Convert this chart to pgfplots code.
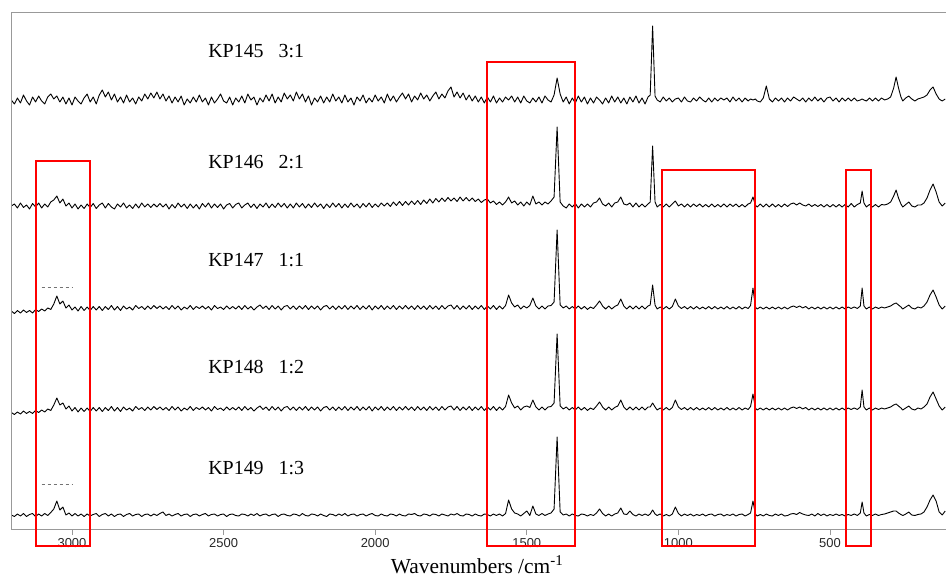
\documentclass[border=0pt]{standalone}
\usepackage{pgfplots}
\pgfplotsset{compat=1.18}
\usepackage{pgfplotstable}
\usepackage{fontspec}
\setmainfont{Liberation Serif}
\newfontfamily\sansf{Liberation Sans}
\pgfplotstableread{
x a b c d e
3200 0 0 -3 -3.5 0
3190 -4 2 -5.5 -5.5 -1.5
3180 2 -2 -2.5 -3 1
3170 -3 3 -5 -5 -1
3160 5 -1.5 -2 -2 1.5
3150 -1 1 -4.5 -4.5 -1.5
3140 -5 -3 -2.5 -2.5 0.5
3130 3 2.5 -5 -4.5 1.5
3120 -2 -1 -1.5 -1.5 -1.5
3110 4 3 -3.5 -3.5 1
3100 -1 -2 -1 -1 -1
3090 -4 2 -3 -3 1.5
3080 3 -1 0 0 -0.5
3070 6 4 -1.5 -1.5 2.5
3060 1 6 4 4 6
3050 4 10 12 11 14
3040 -2 3 4 4 5
3030 3 7 7 6 8
3020 -4 0 0 0 0
3010 2 3 3 3 2
3000 -5 -2 -2 -2 -1
2990 3 2 1 1.5 1.5
2980 -1 -3 -3 -3 -1
2970 -4 1 1.5 1 1
2960 2 -2.5 -2.5 -2.5 -1.5
2950 6 2 1 1 1
2940 -2 -1.5 -2.5 -2.5 -1
2930 3 2.5 1.5 1.5 0.5
2920 -4 -2.5 -2 -2 1.5
2910 5 1 1.5 1.5 -1.5
2900 10 3 -2.5 -2.5 0.5
2890 3 -2 1.5 1.5 1.5
2880 8 2.5 -1.5 -1.5 -1
2870 0 -1 2.5 2.5 1
2860 6 -3 -2 -2 -1.5
2850 -2 2 1.5 1.5 0.5
2840 3 -1 -2.5 -2.5 1
2830 -3 3 2 2 -1.5
2820 5 -2 -1 -1 0.5
2810 -2 1 1 1 1.5
2800 2 -2.5 -2 -2 -1
2790 -4 2 2.5 2.5 0.5
2780 3 -2 -0.5 -0.5 1
2770 -1 3 1.5 1.5 -1.5
2760 6 -1 -1.5 -1.5 0.5
2750 1 2 2 2 1
2740 7 -1.5 -1 -1 -1
2730 2 2 2.5 2.5 1
2720 8 -1 -0.5 -0.5 -0.5
2710 1 2.5 2 2 1.5
2700 6 -1 -1 -1 3
2690 -1 2 1.5 1.5 -0.5
2680 4 -3 -1.5 -1.5 1
2670 -3 1.5 2.5 2.5 -1
2660 3 -2 -1 -1 0.5
2650 -2 3 2 2 1.5
2640 4 -1 -2 -2 -1
2630 -5 2 1 1 0.5
2620 1 -2.5 -1 -1 1
2610 -3 2 2.5 2.5 -1.5
2600 3 -2 -1.5 -1.5 0.5
2590 -2 1.5 1.5 1.5 1
2580 5 -3 -0.5 -0.5 -1
2570 -2 2.5 2 2 0.5
2560 2 -1 -1 -1 1.5
2550 -5 3 1.5 1.5 -1
2540 3 -2 -2 -2 0.5
2530 -3 2 2.5 2.5 1
2520 1 -1.5 -0.5 -0.5 -1
2510 6 2 1 1 0.5
2500 -1 -3 -1.5 -1.5 1
2490 -3 1 2 2 -1.5
2480 3 2.5 -1 -1 0.5
2470 -5 -2 1.5 1.5 1
2460 2 1.5 -1 -1 -0.5
2450 -2 3 2 2 -1
2440 4 -2 -1.5 -1.5 1
2430 -3 1 2.5 2.5 0.5
2420 6 3 -1 -1 -1
2410 0 -1.5 1.5 1.5 1
2400 3 2 -2 -2 -0.5
2390 -5 -2.5 1 1 1.5
2380 2 2 3 3 -1
2370 -2 -1 -0.5 -0.5 0.5
2360 5 3 2 2 1
2350 -1 -2 -1.5 -1.5 -1
2340 6 2 2.5 2.5 0.5
2330 -3 -1.5 -1 -1 1
2320 3 3 2 2 -1.5
2310 -2 -1 -2 -2 0.5
2300 7 2.5 1.5 1.5 1
2290 1 -2 2.5 2.5 -0.5
2280 5 2 -1 -1 -1
2270 -1 -2 2 2 1
2260 8 3 -1.5 -1.5 0.5
2250 1 -1 2 2 -1
2240 6 2.5 -1 -1 1.5
2230 -2 -2 2.5 2.5 -0.5
2220 4 2 -1.5 -1.5 -1
2210 -5 -1.5 2 2 1
2200 2 3 -1 -1 0.5
2190 -2 -1 2 2 -1
2180 4 2 -2 -2 1
2170 -3 -2.5 1.5 1.5 -0.5
2160 3 2 2.5 2.5 -1.5
2150 -2 -1.5 -1 -1 1
2140 6 3 2 2 0.5
2130 -1 -1 -1.5 -1.5 -1
2120 3 2.5 2 2 1
2110 -3 -2 -1 -1 -0.5
2100 5 2 2.5 2.5 1.5
2090 -2 -1.5 -1.5 -1.5 -1
2080 2 3 2 2 0.5
2070 -5 -1 -1 -1 1
2060 3 2 2.5 2.5 -1
2050 -1 -2 -1.5 -1.5 0.5
2040 5 2.5 2 2 1
2030 -3 -1 -1 -1 -1
2020 2 3 2.5 2.5 0.5
2010 -2 -1.5 -2 -2 1.5
2000 5 2 2 2 -0.5
1990 -1 -1 -1 -1 -1
1980 3 3 2.5 2.5 1
1970 -3 0 -1.5 -1.5 -0.5
1960 6 3 2 2 -1
1950 -1 -0.5 -1 -1 1
1940 4 4 2.5 2.5 0.5
1930 -2 0.5 -1.5 -1.5 -1
1920 3 4.5 2 2 1
1910 7 0.5 -1 -1 -0.5
1900 1 4.5 2.5 2.5 -1
1890 6 1 -1 -1 1
1880 -2 5 2 2 0.5
1870 4 1.5 -1.5 -1.5 1.5
1860 0 5.5 2.5 2.5 -0.5
1850 7 1.5 -1 -1 -1
1840 1 6 2 2 1
1830 5 2.5 -1.5 -1.5 0.5
1820 -1 7 2.5 2.5 -1
1810 4 3 -1 -1 1
1800 8 7.5 2 2 0.5
1790 1 4 -1.5 -1.5 -1
1780 6 8 2.5 2.5 1
1770 2 4.5 -1 -1 0
1760 9 8.5 2 2 -1
1750 13 5 3 3 1
1740 3 8 -1 -1 0
1730 8 4.5 2.5 2.5 1.5
1720 2 9 -1.5 -1.5 -0.5
1710 7 5 2 2 -1
1700 0 8.5 -1 -1 1
1690 5 5 2.5 2.5 0.5
1680 -1 8 -1.5 -1.5 -1
1670 4 4.5 2 2 1
1660 -2 7 -1 -1 -0.5
1650 3 3.5 2.5 2.5 -1
1640 -3 6 -1.5 -1.5 1
1630 3 7 2 2 0.5
1620 -2 3 -1 -1 -1
1610 4 5 2.5 2.5 1
1600 -3 1.5 -1.5 -1.5 -0.5
1590 2 4 2 2 1
1580 -2 1 -1 -1 -1
1570 3 4 2.5 2.5 1.5
1560 0 9 13 14 15
1550 4 3 5 6 6
1540 -2 5 1 1 2
1530 3 1 3 3 1
1520 -3 4 -1 -1 -1
1510 4 0 2 2 1.5
1500 -1 4 0 3 4
1490 -3 1 2.5 1.5 -0.5
1480 2 10 10 9 9
1470 -2 2 2 2 1
1460 3 4 -1 -1 -0.5
1450 -3 1 2 2 1.5
1440 4 4 -1 -1 -0.5
1430 0 2 2 2 1
1420 -2 5 2.5 2.5 2
1410 5 9 6 6 6
1400 22 79 78 75 78
1390 6 4 3 3 3
1380 -2 0 0 0 0
1370 3 -2 2 2 1
1360 -4 2 -1 -1 -1
1350 2 -1 1.5 1.5 1
1340 -3 2.5 -1 -1 -0.5
1330 4 -2 2 2 -1
1320 -2 2 -1 -1 1
1310 3 -1 1.5 1.5 0.5
1300 -4 2 -1.5 -1.5 -1
1290 2 -1 1 1 0.5
1280 -3 3 -0.5 -0.5 -0.5
1270 3 4 3 3 2
1260 0 8 7 7 6
1250 -4 2 2 2 1.5
1240 2 0 -1 -1 -1
1230 -3 3 2 2 1
1220 4 -1 -1 -1 -1
1210 -2 3 1.5 1.5 1
1200 3 4 3 3 2
1190 -3 9 9 9 7
1180 2 2 2 2 1
1170 -4 1 -1 -1 0.5
1160 3 3 2 2 4
1150 -2 -1 -1 -1 0.5
1140 4 3 2 2 -1
1130 -3 -1 -1 -1 1
1120 2 2 2 2 -0.5
1110 -4 -1 -1 -1 1
1100 3 2 2 2 -0.5
1093 5 4 3 2 1
1085 74 60 23 6 5
1077 4 4 3 2 1
1070 0 -1 -1 -1 -0.5
1060 -2 1.5 1 1 1
1050 3 -1 -1 -1 -1
1040 -1 2 1.5 1.5 0.5
1030 2 -1 -1 -1 -1
1020 -2 2 1.5 1.5 1
1010 1 5 9 9 8
1000 2 0 2 2 1.5
990 -2 2 -0.5 -0.5 -1
980 3 -1 1.5 1.5 1
970 -1 2 -1 -1 -0.5
960 -2 -1 1.5 1.5 1
950 2 2 -1 -1 -1
940 -1 -0.5 1.5 1.5 0.5
930 3 2 -1 -1 -0.5
920 0 -1 1 1 1
910 -2 1.5 -1 -1 -1
900 2 -1 1.5 1.5 0.5
890 -2 2 -1 -1 1
880 2 -1 1.5 1.5 -1
870 -1 1.5 -1 -1 0.5
860 2 -1 1 1 1
850 0 2 -1 -1 -1
840 2 -1 1.5 1.5 0.5
830 -2 2 -1 -1 -0.5
820 3 -0.5 1 1 1
810 -1 2 -1 -1 -1
800 2 -1 1.5 1.5 0.5
790 -2 1.5 -1 -1 1
780 2 -1 1 1 -1
770 -1 2 -0.5 -0.5 0.5
762 1 3 2.5 2.5 2
754 0 9 20 15 14
746 1 1 1 1 1
740 -1 -1 -1 -1 -1
730 -2 2 1 1 0.5
720 2 -1 -1 -1 -1
710 14 2 1 1 1
700 1 -1 -1 -1 -0.5
690 -2 2 1 1 -1
680 2 -1 -1 -1 1
670 -1 1.5 1 1 -0.5
660 2 -1 -1 -1 1
650 -2 2 1 1 -1
640 2 -0.5 -1 -1 -0.5
630 -1 2 1 1 1
620 3 3 2 2 1.5
610 1 1 0.5 0.5 0.5
600 -1 3 2 2 2.5
590 2 1 0 0 1
580 -2 0 1.5 1.5 0
570 2 2 -1 -1 -0.5
560 -1 -0.5 1 1 1
550 3 1.5 -1 -1 -1
540 -1 -0.5 1 1 1.5
530 2 1.5 -1 -1 -0.5
520 -2 -1 1 1 1
510 2 1.5 -1 -1 -1
500 3 -1 1 1 0.5
490 -1 1.5 -1 -1 -0.5
480 2 -1 1 1 1
470 -2 1.5 -1 -1 -0.5
460 2 -1 1 1 0.5
450 -1 1.5 -1 -1 -1
440 2 -1 1 1 0.5
430 -1 2.5 -0.5 -0.5 -0.5
420 2 -1 1 1 1
410 -1 1.5 -0.5 -0.5 -0.5
400 0 3 2 2 2
394 1 15 20 19 13
388 0 3 2 2 2
380 -1 -1 -1 -1 -1
370 2 1.5 1 1 0.5
360 -1 -1 -1 -1 -0.5
350 2 1.5 1 1 1
340 -1 -1 -0.5 -0.5 -0.5
330 2 1.5 1 1 0.5
320 0 1 0 0 1
310 1 2 1 1 2
300 3 4 2 2 3
290 12 10 4 4 4
282 23 16 5 5 4
274 12 8 3 3 2
266 3 2 1 1 0.5
260 -1 -1 -1 -1 -0.5
250 2 1.5 1 1 1
240 4 4 3 3 3
230 1 0 0 0 0
220 -1 -1 -1 -1 -0.5
210 1 1 1 1 0.5
200 2 1 0 0 1
190 3 3 2 2 3
180 5 8 6 5 8
170 10 16 13 12 15
160 13 22 18 17 20
150 6 14 11 10 14
140 1 4 3 3 3
130 -1 0 -1 -1 0
120 1 3 2 2 4
}\spectra
\begin{document}
\begin{tikzpicture}
\begin{axis}[
  at={(0,0)}, anchor=south west,
  scale only axis, width=935bp, height=517bp,
  xmin=117.4, xmax=3201.2, x dir=reverse,
  ymin=0, ymax=517,
  axis x line*=bottom, axis y line=none,
  axis line style={black!40, line width=0.8bp, -},
  ytick=\empty,
  xtick={500,1000,1500,2000,2500,3000},
  minor tick num=0,
  tick align=outside,
  major tick length=6bp,
  tick style={black!40, line width=0.8bp},
  xticklabel style={font=\sansf\fontsize{13}{13}\selectfont, text=black!85},
  /pgf/number format/assume math mode=true,
  /pgf/number format/1000 sep={},
  clip=false,
]
\addplot[black, line width=0.9bp, line join=round, mark=none] table[x=x, y expr=\thisrow{a}+429] {\spectra};
\addplot[black, line width=0.9bp, line join=round, mark=none] table[x=x, y expr=\thisrow{b}+323] {\spectra};
\addplot[black, line width=0.9bp, line join=round, mark=none] table[x=x, y expr=\thisrow{c}+221] {\spectra};
\addplot[black, line width=0.9bp, line join=round, mark=none] table[x=x, y expr=\thisrow{d}+120] {\spectra};
\addplot[black, line width=0.9bp, line join=round, mark=none] table[x=x, y expr=\thisrow{e}+14] {\spectra};
\draw[black!40, line width=0.8bp] (axis cs:3201.2,0) -- (axis cs:3201.2,517) -- (axis cs:117.4,517);
\draw[black!55, line width=0.6bp, dash pattern=on 3bp off 3bp] (axis cs:3100,242) -- (axis cs:3000,242);
\draw[black!55, line width=0.6bp, dash pattern=on 3bp off 3bp] (axis cs:3100,45) -- (axis cs:3000,45);
\draw[red, line width=2bp] (axis cs:3119,368) rectangle (axis cs:2941,-17);
\draw[red, line width=2bp] (axis cs:1631,467) rectangle (axis cs:1341,-17);
\draw[red, line width=2bp] (axis cs:1054,359) rectangle (axis cs:747,-17);
\draw[red, line width=2bp] (axis cs:447,359) rectangle (axis cs:365,-17);
\node[anchor=base west, font=\fontsize{20}{20}\selectfont, inner sep=0pt] at (axis cs:2551,471) {KP145\hspace{15bp}3:1};
\node[anchor=base west, font=\fontsize{20}{20}\selectfont, inner sep=0pt] at (axis cs:2551,360) {KP146\hspace{15bp}2:1};
\node[anchor=base west, font=\fontsize{20}{20}\selectfont, inner sep=0pt] at (axis cs:2551,262) {KP147\hspace{15bp}1:1};
\node[anchor=base west, font=\fontsize{20}{20}\selectfont, inner sep=0pt] at (axis cs:2551,155) {KP148\hspace{15bp}1:2};
\node[anchor=base west, font=\fontsize{20}{20}\selectfont, inner sep=0pt] at (axis cs:2551,55) {KP149\hspace{15bp}1:3};
\node[anchor=base, font=\fontsize{21.5}{21.5}\selectfont, inner sep=0pt] at (axis cs:1664,-44) {Wavenumbers /cm\textsuperscript{-1}};
\end{axis}
\pgfresetboundingbox
\path (-11bp,-49bp) rectangle (935bp,529bp);
\end{tikzpicture}
\end{document}
